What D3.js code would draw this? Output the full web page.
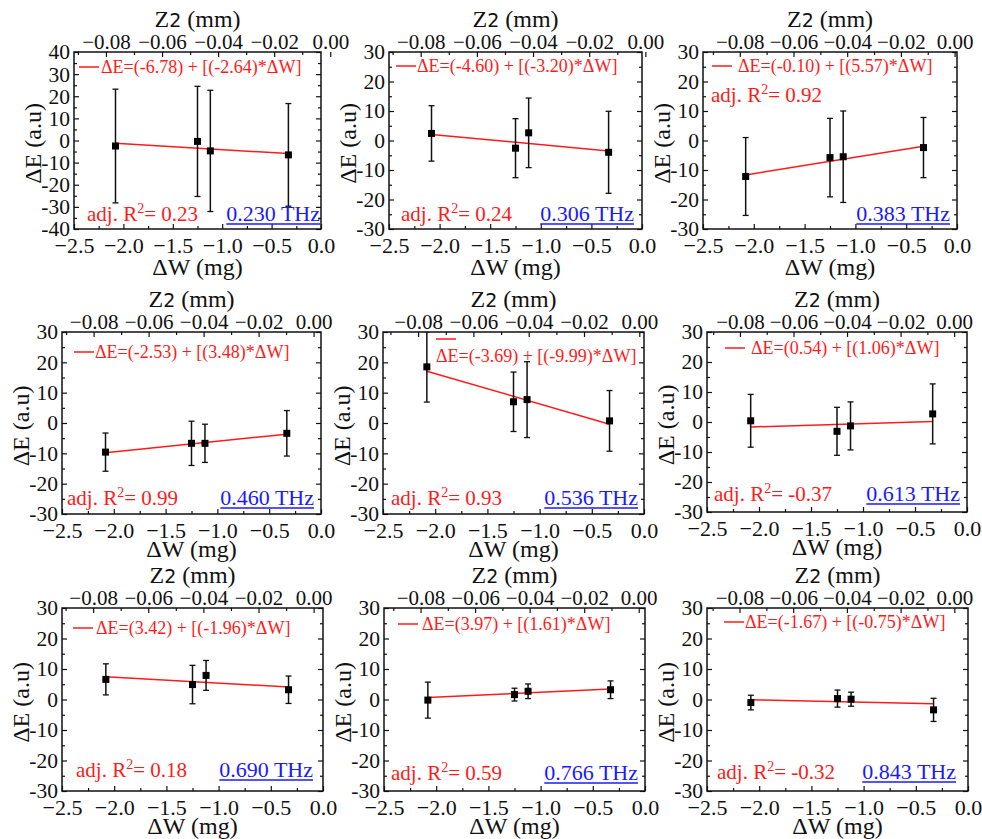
<!DOCTYPE html>
<html><head><meta charset="utf-8">
<script src="https://cdn.jsdelivr.net/npm/d3@7"></script>
<style>
body{margin:0;background:#fff}
svg{display:block}
</style>
</head><body>
<svg id="chart" width="982" height="839" font-family="Liberation Serif"></svg>
<script>
// ---------------- data ----------------
const freqLabels = ["0.230 THz","0.306 THz","0.383 THz","0.460 THz","0.536 THz","0.613 THz","0.690 THz","0.766 THz","0.843 THz"];
const dW = [-2.08, -1.25, -1.12, -0.33];           // ΔW (mg)
const dE_0230 = [-2.5, -0.4, -4.7, -6.5];  const err_0230 = [25.7, 24.9, 27.4, 23.2];
const dE_0306 = [2.4, -2.6, 2.6, -4.0];    const err_0306 = [9.4, 10.0, 11.8, 13.9];
const dE_0383 = [-12.2, -5.8, -5.5, -2.4]; const err_0383 = [13.2, 13.3, 15.5, 10.2];
const dE_0460 = [-9.6, -6.7, -6.7, -3.4];  const err_0460 = [6.3, 7.3, 6.3, 7.5];
const dE_0536 = [18.5, 7.0, 7.7, 0.7];     const err_0536 = [11.6, 9.8, 12.5, 10.0];
const dE_0613 = [0.4, -3.1, -1.3, 2.7];    const err_0613 = [8.8, 8.0, 8.0, 10.0];
const dE_0690 = [6.6, 4.9, 7.9, 3.2];      const err_0690 = [5.1, 6.3, 4.9, 4.5];
const dE_0766 = [-0.2, 1.6, 2.7, 3.2];     const err_0766 = [5.9, 2.1, 2.4, 2.9];
const dE_0843 = [-1.0, 0.3, 0.1, -3.4];    const err_0843 = [2.4, 2.8, 2.3, 3.8];
const dEValues = [dE_0230, dE_0306, dE_0383, dE_0460, dE_0536, dE_0613, dE_0690, dE_0766, dE_0843];
const dEErrors = [err_0230, err_0306, err_0383, err_0460, err_0536, err_0613, err_0690, err_0766, err_0843];
const intercepts = [-6.78, -4.60, -0.10, -2.53, -3.69, 0.54, 3.42, 3.97, -1.67];
const slopes     = [-2.64, -3.20, 5.57, 3.48, -9.99, 1.06, -1.96, 1.61, -0.75];
const adjR2      = ["0.23", "0.24", "0.92", "0.99", "0.93", "-0.37", "0.18", "0.59", "-0.32"];
const yDomains   = [[-40,40],[-30,30],[-30,30],[-30,30],[-30,30],[-30,30],[-30,30],[-30,30],[-30,30]];
const xDomain = [-2.5, 0];
// top (Z2, mm) axis extent of each panel
const zDomains = [
  [-0.0914, -0.0033], [-0.0913, -0.0012], [-0.0937, 0.0009],
  [-0.0915, 0.0027], [-0.0927, 0.0017], [-0.0923, 0.0048],
  [-0.0913, 0.0034], [-0.0934, 0.0023], [-0.0921, 0.0051]
];
const xTicks = [-2.5, -2.0, -1.5, -1.0, -0.5, 0.0];
const xMinorTicks = [-2.25, -1.75, -1.25, -0.75, -0.25];
const zTicks = [-0.08, -0.06, -0.04, -0.02, 0.00];
const zMinorTicks = [-0.09, -0.07, -0.05, -0.03, -0.01];

// ---------------- layout ----------------
const FONT = "Liberation Serif";
const boxes = [
  [74, 52, 321, 229], [389, 52, 642, 229], [703, 52, 957, 229],
  [62, 332, 321, 514], [383, 332, 644, 514], [707, 332, 967, 512],
  [62, 608, 323, 791], [384, 608, 645, 791], [707, 608, 968, 791]
];
const legendPos = [
  [5,15,2,15],[7,14,1,14],[9,14,6,14],
  [12,20,1,20],[53,7,-20,24],[18,16,6,16],
  [11,20,3,20],[14,16,4,16],[17,14,1,14]
];
const adjPos = [
  [13,-8,0],[12,-8,0],[8,50,1],
  [5,-9,0],[8,-9,0],[7,-11,0],
  [14,-14,0],[7,-11,0],[10,-12,0]
];
const freqRight = [1, 8, 7, 7, 6, 7, 10, 7, 12];
const freqBase  = [-8, -8, -8, -9, -9, -11, -14, -11, -12];
const titleGap  = [46, 46, 46, 43, 43, 43, 43, 43, 43];

const RED = "#ff1a1a", BLUE = "#1a1aff";
const svg = d3.select("#chart");

const fmtX = d3.format(".1f");
const fmtZ = d3.format(".2f");
const fmtY = d => (d < 0 ? "-" + Math.abs(d) : String(d));

boxes.forEach((b, i) => {
  const [L, T, R, B] = b;
  const x = d3.scaleLinear().domain(xDomain).range([L, R]);
  const z = d3.scaleLinear().domain(zDomains[i]).range([L, R]);
  const y = d3.scaleLinear().domain(yDomains[i]).range([B, T]);
  const g = svg.append("g");

  const yTicks = d3.range(yDomains[i][0], yDomains[i][1] + 0.1, 10);
  const yMinor = d3.range(yDomains[i][0] + 5, yDomains[i][1], 10);

  const cid = "clip" + i;
  svg.append("clipPath").attr("id", cid).append("rect")
    .attr("x", L).attr("y", T).attr("width", R - L).attr("height", B - T);

  const styleAxis = (sel, fs) => {
    sel.attr("font-family", FONT).attr("font-size", fs || 22);
    sel.select(".domain").remove();
    sel.selectAll(".tick line").attr("stroke", "#111").attr("stroke-width", 1.2);
    sel.selectAll(".tick text").attr("fill", "#111").attr("font-family", FONT);
  };
  g.append("g").attr("transform", `translate(0,${B})`)
    .call(d3.axisBottom(x).tickValues(xTicks).tickFormat(fmtX).tickSize(-5).tickPadding(8))
    .call(styleAxis, 22);
  g.append("g").attr("transform", `translate(0,${B})`)
    .call(d3.axisBottom(x).tickValues(xMinorTicks).tickFormat("").tickSize(-3))
    .call(styleAxis);
  g.append("g").attr("transform", `translate(0,${T})`)
    .call(d3.axisTop(z).tickValues(zTicks).tickFormat(fmtZ).tickSize(-5).tickPadding(3))
    .call(styleAxis, 21);
  g.append("g").attr("transform", `translate(0,${T})`)
    .call(d3.axisTop(z).tickValues(zMinorTicks).tickFormat("").tickSize(-3))
    .call(styleAxis);
  g.append("g").attr("transform", `translate(${L},0)`)
    .call(d3.axisLeft(y).tickValues(yTicks).tickFormat(fmtY).tickSize(-5).tickPadding(4))
    .call(styleAxis, 21.5);
  g.append("g").attr("transform", `translate(${L},0)`)
    .call(d3.axisLeft(y).tickValues(yMinor).tickFormat("").tickSize(-3))
    .call(styleAxis);
  g.append("g").attr("transform", `translate(${R},0)`)
    .call(d3.axisRight(y).tickValues(yTicks).tickFormat("").tickSize(-5))
    .call(styleAxis);
  g.append("g").attr("transform", `translate(${R},0)`)
    .call(d3.axisRight(y).tickValues(yMinor).tickFormat("").tickSize(-3))
    .call(styleAxis);

  g.append("rect").attr("x", L).attr("y", T).attr("width", R - L).attr("height", B - T)
    .attr("fill", "none").attr("stroke", "#111").attr("stroke-width", 1.5);

  // axis titles
  g.append("text").attr("x", (L + R) / 2).attr("y", B + titleGap[i]).attr("text-anchor", "middle")
    .attr("font-family", FONT).attr("font-size", 24).attr("fill", "#111").text("ΔW (mg)");
  const zt = g.append("text").attr("x", (L + R) / 2).attr("y", T - 25).attr("text-anchor", "middle")
    .attr("font-family", FONT).attr("font-size", 24).attr("fill", "#111");
  zt.append("tspan").text("Z");
  zt.append("tspan").attr("font-family", "DejaVu Sans").attr("font-size", 19).text("2");
  zt.append("tspan").text(" (mm)");
  g.append("text").attr("transform", `translate(${L - 33},${(T + B) / 2 + 3}) rotate(-90)`)
    .attr("text-anchor", "middle").attr("font-family", FONT).attr("font-size", 24)
    .attr("fill", "#111").text("ΔE (a.u)");

  // data layer (clipped)
  const d = g.append("g").attr("clip-path", `url(#${cid})`);
  const xs = dW, ys = dEValues[i], es = dEErrors[i];
  const xMin = d3.min(xs), xMax = d3.max(xs);
  d.append("line")
    .attr("x1", x(xMin)).attr("y1", y(intercepts[i] + slopes[i] * xMin))
    .attr("x2", x(xMax)).attr("y2", y(intercepts[i] + slopes[i] * xMax))
    .attr("stroke", RED).attr("stroke-width", 1.5);
  const pts = xs.map((v, k) => ({x: v, y: ys[k], e: es[k]}));
  d.selectAll(".eb").data(pts).enter().append("line")
    .attr("x1", p => x(p.x)).attr("x2", p => x(p.x))
    .attr("y1", p => y(p.y - p.e)).attr("y2", p => y(p.y + p.e))
    .attr("stroke", "#111").attr("stroke-width", 1.5);
  [-1, 1].forEach(s => {
    d.selectAll(".cap" + s).data(pts).enter().append("line")
      .attr("x1", p => x(p.x) - 3).attr("x2", p => x(p.x) + 3)
      .attr("y1", p => y(p.y + s * p.e)).attr("y2", p => y(p.y + s * p.e))
      .attr("stroke", "#111").attr("stroke-width", 1.3);
  });
  d.selectAll(".pt").data(pts).enter().append("rect")
    .attr("x", p => x(p.x) - 3.5).attr("y", p => y(p.y) - 3.5)
    .attr("width", 7).attr("height", 7).attr("fill", "#000");

  // legend
  const [ldx, ldy, tdx, tdy] = legendPos[i];
  g.append("line").attr("x1", L + ldx).attr("x2", L + ldx + 20)
    .attr("y1", T + ldy).attr("y2", T + ldy).attr("stroke", RED).attr("stroke-width", 1.5);
  const fmt2 = v => "(" + v.toFixed(2) + ")";
  g.append("text").attr("x", L + ldx + 20 + tdx).attr("y", T + tdy).attr("dy", "0.35em")
    .attr("font-family", FONT).attr("font-size", 18).attr("fill", RED)
    .text(`ΔE=${fmt2(intercepts[i])} + [${fmt2(slopes[i])}*ΔW]`);

  // adj R2
  const [adx, ady, top] = adjPos[i];
  const at = g.append("text").attr("x", L + adx).attr("y", top ? T + ady : B + ady)
    .attr("font-family", FONT).attr("font-size", 21).attr("fill", RED);
  at.append("tspan").text("adj. R");
  at.append("tspan").attr("dy", -8).attr("font-size", 14).text("2");
  at.append("tspan").attr("dy", 8).text("= " + adjR2[i]);

  // frequency label (underlined)
  const ft = g.append("text").attr("x", R - freqRight[i]).attr("y", B + freqBase[i])
    .attr("text-anchor", "end").attr("font-family", FONT).attr("font-size", 22)
    .attr("fill", BLUE).text(freqLabels[i]);
  const w = ft.node().getComputedTextLength();
  g.append("line").attr("x1", R - freqRight[i] - w).attr("x2", R - freqRight[i])
    .attr("y1", B + freqBase[i] + 3).attr("y2", B + freqBase[i] + 3)
    .attr("stroke", BLUE).attr("stroke-width", 1.3);
});
</script>
</body></html>
